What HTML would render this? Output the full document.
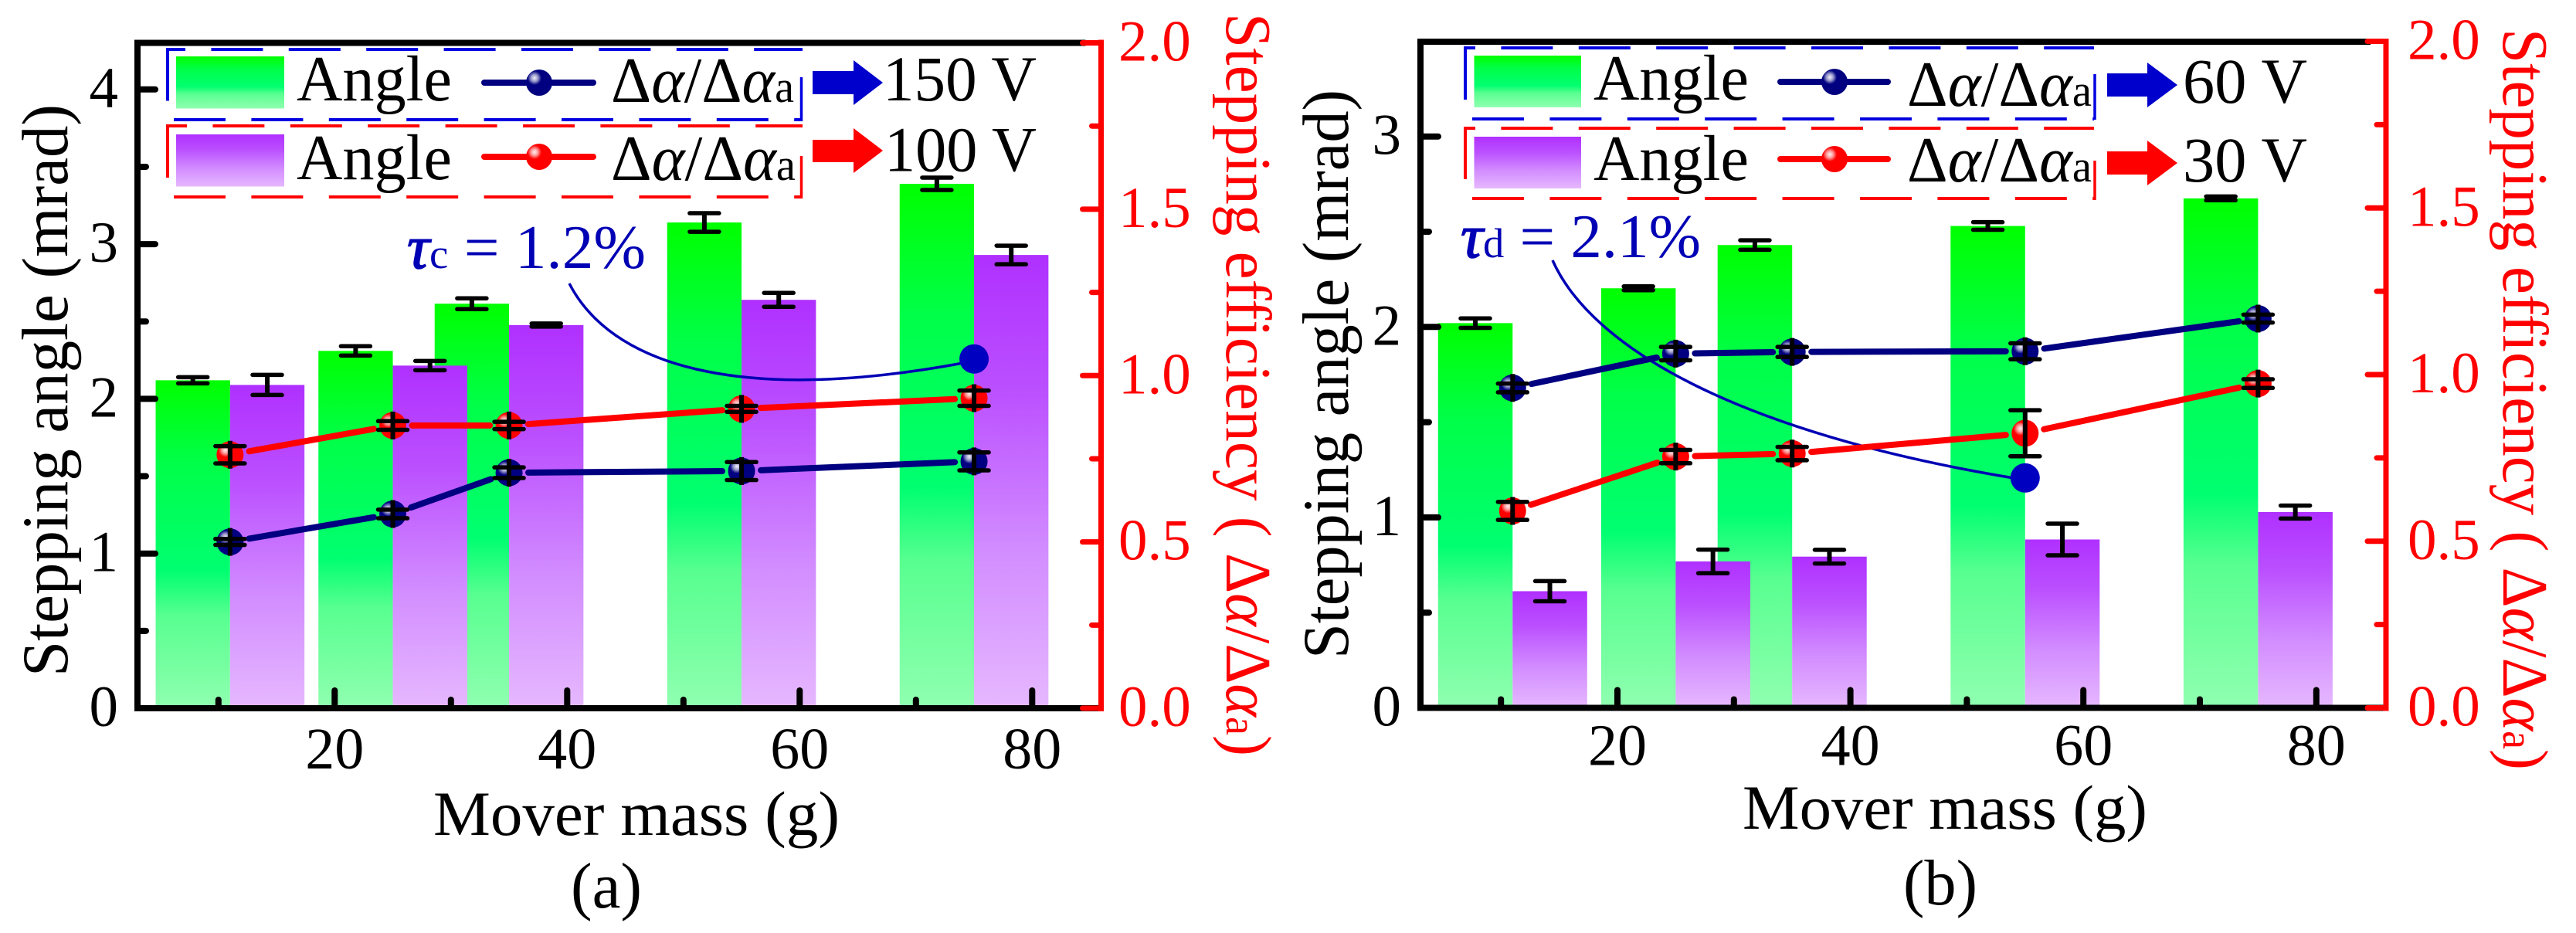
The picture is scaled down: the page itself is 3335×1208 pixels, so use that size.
<!DOCTYPE html>
<html lang="en">
<head>
<meta charset="utf-8">
<title>Stepping angle and stepping efficiency versus mover mass</title>
<style>
html,body{margin:0;padding:0;background:#fff;}
svg{display:block;}
text{font-family:"Liberation Serif","DejaVu Serif",serif;}
</style>
</head>
<body>
<svg id="figure" xmlns="http://www.w3.org/2000/svg" width="3335" height="1208" viewBox="0 0 3335 1208">
<defs>
<linearGradient id="gGreen" x1="0" y1="0" x2="0" y2="1">
<stop offset="0" stop-color="#00ff00"/><stop offset="0.25" stop-color="#00ff48"/><stop offset="0.58" stop-color="#00ff70"/><stop offset="0.72" stop-color="#58ff90"/><stop offset="1" stop-color="#90ffb0"/>
</linearGradient>
<linearGradient id="gPurple" x1="0" y1="0" x2="0" y2="1">
<stop offset="0" stop-color="#b030ff"/><stop offset="0.3" stop-color="#bb50ff"/><stop offset="0.65" stop-color="#d28cff"/><stop offset="1" stop-color="#e6b8ff"/>
</linearGradient>
<radialGradient id="gShine">
<stop offset="0" stop-color="#ffffff" stop-opacity="0.95"/><stop offset="0.5" stop-color="#ffffff" stop-opacity="0.6"/><stop offset="1" stop-color="#ffffff" stop-opacity="0"/>
</radialGradient>
</defs>
<rect x="0" y="0" width="3335" height="1208" fill="#ffffff"/>

<g id="panelA"></g>
<g id="panelB"></g>

<!-- Panel A static text and legend -->
<g>
<text transform="translate(87,876) rotate(-90)" font-size="85" fill="#000" textLength="741" lengthAdjust="spacingAndGlyphs">Stepping angle (mrad)</text>
<text transform="translate(1588,17) rotate(90)" font-size="84" fill="#ff0000" textLength="962" lengthAdjust="spacingAndGlyphs">Stepping efficiency ( Δ<tspan font-style="italic">α</tspan>/Δ<tspan font-style="italic">α</tspan><tspan font-size="56">a</tspan>)</text>
<text x="561" y="1081" font-size="82" fill="#000" textLength="526" lengthAdjust="spacingAndGlyphs">Mover mass (g)</text>
<text x="739" y="1175" font-size="84" fill="#000" textLength="92" lengthAdjust="spacingAndGlyphs">(a)</text>
</g>
<g>
<line x1="217" y1="64" x2="1039" y2="64" stroke="#0000e0" stroke-width="4" stroke-dasharray="67 33.4" stroke-dashoffset="44"/>
<line x1="225" y1="155" x2="1039" y2="155" stroke="#0000e0" stroke-width="4" stroke-dasharray="67 33.4"/>
<line x1="217" y1="62" x2="217" y2="130.5" stroke="#0000e0" stroke-width="4"/>
<line x1="1037.5" y1="100" x2="1037.5" y2="157" stroke="#0000e0" stroke-width="3.5"/>
<line x1="217" y1="163" x2="1039" y2="163" stroke="#ff0000" stroke-width="4" stroke-dasharray="67 33.4" stroke-dashoffset="42"/>
<line x1="225" y1="255" x2="1039" y2="255" stroke="#ff0000" stroke-width="4" stroke-dasharray="67 33.4"/>
<line x1="217" y1="161" x2="217" y2="230" stroke="#ff0000" stroke-width="4"/>
<line x1="1037.5" y1="202" x2="1037.5" y2="257" stroke="#ff0000" stroke-width="3.5"/>
<rect x="228" y="73" width="140" height="67.5" fill="url(#gGreen)"/>
<rect x="228" y="174" width="140" height="67.5" fill="url(#gPurple)"/>
<text x="384" y="130" font-size="84" textLength="201" lengthAdjust="spacingAndGlyphs">Angle</text>
<text x="384" y="232" font-size="84" textLength="201" lengthAdjust="spacingAndGlyphs">Angle</text>
<line x1="627" y1="107" x2="768" y2="107" stroke="#000080" stroke-width="8" stroke-linecap="round"/>
<line x1="627" y1="203" x2="768" y2="203" stroke="#ff0000" stroke-width="8" stroke-linecap="round"/>
<circle cx="698" cy="107" r="17" fill="#000080"/>
<circle cx="692" cy="101" r="9" fill="url(#gShine)"/>
<circle cx="698" cy="203" r="17" fill="#ff0000"/>
<circle cx="692" cy="197" r="9" fill="url(#gShine)"/>
<text x="791" y="132" font-size="84" textLength="237" lengthAdjust="spacingAndGlyphs">Δ<tspan font-style="italic">α</tspan>/Δ<tspan font-style="italic">α</tspan><tspan font-size="58">a</tspan></text>
<text x="791" y="233" font-size="84" textLength="239" lengthAdjust="spacingAndGlyphs">Δ<tspan font-style="italic">α</tspan>/Δ<tspan font-style="italic">α</tspan><tspan font-size="58">a</tspan></text>
<polygon points="1052,92 1105,92 1105,78 1143,107 1105,136 1105,122 1052,122" fill="#0000cc"/>
<polygon points="1052,181 1105,181 1105,166 1143,195 1105,224 1105,210 1052,210" fill="#ff0000"/>
<text x="1143" y="130" font-size="83" textLength="199" lengthAdjust="spacingAndGlyphs">150 V</text>
<text x="1145" y="221.5" font-size="83" textLength="197" lengthAdjust="spacingAndGlyphs">100 V</text>
<text x="527" y="347" font-size="80" fill="#0000b4" textLength="309" lengthAdjust="spacingAndGlyphs"><tspan font-style="italic" stroke="#0000b4" stroke-width="1.5">τ</tspan><tspan font-size="54">c</tspan> = 1.2%</text>
</g>

<!-- Panel B static text and legend -->
<g>
<text transform="translate(1745,853) rotate(-90)" font-size="85" fill="#000" textLength="737" lengthAdjust="spacingAndGlyphs">Stepping angle (mrad)</text>
<text transform="translate(3241,37) rotate(90)" font-size="84" fill="#ff0000" textLength="960" lengthAdjust="spacingAndGlyphs">Stepping efficiency ( Δ<tspan font-style="italic">α</tspan>/Δ<tspan font-style="italic">α</tspan><tspan font-size="56">a</tspan>)</text>
<text x="2256" y="1073" font-size="82" fill="#000" textLength="524" lengthAdjust="spacingAndGlyphs">Mover mass (g)</text>
<text x="2464" y="1171" font-size="84" fill="#000" textLength="96" lengthAdjust="spacingAndGlyphs">(b)</text>
</g>
<g>
<line x1="1897" y1="62" x2="2711" y2="62" stroke="#0000e0" stroke-width="4" stroke-dasharray="67 33.4" stroke-dashoffset="54"/>
<line x1="1906" y1="154" x2="2711" y2="154" stroke="#0000e0" stroke-width="4" stroke-dasharray="67 33.4"/>
<line x1="1897" y1="60" x2="1897" y2="129" stroke="#0000e0" stroke-width="4"/>
<line x1="2712" y1="96" x2="2712" y2="155" stroke="#0000e0" stroke-width="3.5"/>
<line x1="1897" y1="166" x2="2711" y2="166" stroke="#ff0000" stroke-width="4" stroke-dasharray="67 33.4" stroke-dashoffset="54"/>
<line x1="1906" y1="257" x2="2711" y2="257" stroke="#ff0000" stroke-width="4" stroke-dasharray="67 33.4"/>
<line x1="1897" y1="164" x2="1897" y2="232" stroke="#ff0000" stroke-width="4"/>
<line x1="2712" y1="208" x2="2712" y2="259" stroke="#ff0000" stroke-width="3.5"/>
<rect x="1908.5" y="72" width="138.5" height="67" fill="url(#gGreen)"/>
<rect x="1908.5" y="177" width="138.5" height="67" fill="url(#gPurple)"/>
<text x="2063" y="129" font-size="84" textLength="201" lengthAdjust="spacingAndGlyphs">Angle</text>
<text x="2063" y="233" font-size="84" textLength="201" lengthAdjust="spacingAndGlyphs">Angle</text>
<line x1="2305" y1="106" x2="2444" y2="106" stroke="#000080" stroke-width="8" stroke-linecap="round"/>
<line x1="2305" y1="206" x2="2444" y2="206" stroke="#ff0000" stroke-width="8" stroke-linecap="round"/>
<circle cx="2375" cy="106" r="17" fill="#000080"/>
<circle cx="2369" cy="100" r="9" fill="url(#gShine)"/>
<circle cx="2375" cy="206" r="17" fill="#ff0000"/>
<circle cx="2369" cy="200" r="9" fill="url(#gShine)"/>
<text x="2469" y="137" font-size="84" textLength="239" lengthAdjust="spacingAndGlyphs">Δ<tspan font-style="italic">α</tspan>/Δ<tspan font-style="italic">α</tspan><tspan font-size="58">a</tspan></text>
<text x="2469" y="235" font-size="84" textLength="239" lengthAdjust="spacingAndGlyphs">Δ<tspan font-style="italic">α</tspan>/Δ<tspan font-style="italic">α</tspan><tspan font-size="58">a</tspan></text>
<polygon points="2728,95 2780,95 2780,81 2819,110 2780,139 2780,125 2728,125" fill="#0000cc"/>
<polygon points="2728,196 2780,196 2780,182 2819,211 2780,240 2780,226 2728,226" fill="#ff0000"/>
<text x="2826" y="133" font-size="83" textLength="161" lengthAdjust="spacingAndGlyphs">60 V</text>
<text x="2826" y="235" font-size="83" textLength="161" lengthAdjust="spacingAndGlyphs">30 V</text>
<text x="1891" y="333" font-size="80" fill="#0000b4" textLength="311" lengthAdjust="spacingAndGlyphs"><tspan font-style="italic" stroke="#0000b4" stroke-width="1.5">τ</tspan><tspan font-size="54">d</tspan> = 2.1%</text>
</g>
</svg>

<script>
// Panel (a) data
const massA = [11, 25, 35, 55, 75];
const angle150 = [2.12, 2.31, 2.615, 3.14, 3.39];
const angle150Err = [0.02, 0.03, 0.035, 0.06, 0.04];
const angle100 = [2.09, 2.215, 2.477, 2.64, 2.93];
const angle100Err = [0.065, 0.03, 0.01, 0.045, 0.06];
const eff150 = [0.50, 0.584, 0.708, 0.713, 0.742];
const eff150Err = [0.009, 0.013, 0.016, 0.027, 0.027];
const eff100 = [0.762, 0.85, 0.85, 0.90, 0.932];
const eff100Err = [0.026, 0.013, 0.011, 0.009, 0.023];
const leftMajorTicksA = [0, 1, 2, 3, 4];
const leftMinorTicksA = [0.5, 1.5, 2.5, 3.5];

// Panel (b) data
const massB = [11, 25, 35, 55, 75];
const angle60 = [2.02, 2.203, 2.43, 2.53, 2.675];
const angle60Err = [0.025, 0.01, 0.025, 0.02, 0.01];
const angle30 = [0.6125, 0.769, 0.794, 0.884, 1.028];
const angle30Err = [0.053, 0.062, 0.036, 0.083, 0.034];
const eff60 = [0.96, 1.063, 1.068, 1.07, 1.168];
const eff60Err = [0.013, 0.02, 0.015, 0.024, 0.012];
const eff30 = [0.591, 0.754, 0.763, 0.824, 0.973];
const eff30Err = [0.027, 0.02, 0.02, 0.069, 0.013];
const leftMajorTicksB = [0, 1, 2, 3];
const leftMinorTicksB = [0.5, 1.5, 2.5];

// Shared axis labels
const xMajorTicks = [20, 40, 60, 80];
const xMinorTicks = [10, 30, 50, 70];
const rightMajorTicks = [0, 0.5, 1.0, 1.5, 2.0];
const rightMinorTicks = [0.25, 0.75, 1.25, 1.75];
const barWidthInMass = 6.4;
const annotationMassA = 75;
const annotationEffA = 1.05;
const annotationMassB = 55;
const annotationEffB = 0.69;

const SVGNS = 'http://www.w3.org/2000/svg';
function make(tag, attrs, parent) {
  const node = document.createElementNS(SVGNS, tag);
  for (const k in attrs) node.setAttribute(k, attrs[k]);
  parent.appendChild(node);
  return node;
}

function drawMarker(parent, cx, cy, color) {
  const dot = make('circle', {cx: cx, cy: cy, r: 17.5, fill: color}, parent);
  
  
  const shine = make('circle', {cx: cx - 6, cy: cy - 6, r: 9, fill: 'url(#gShine)'}, parent);
  
  
}

function drawErrorBar(parent, cx, yCentre, yHigh, yLow, minStem) {
  const top = Math.min(yHigh, yCentre - minStem);
  const bottom = Math.max(yLow, yCentre + minStem);
  const stem = make('line', {x1: cx, x2: cx, y1: top, y2: bottom, stroke: '#000', 'stroke-width': 6}, parent);
  
  
  const capTop = make('line', {x1: cx - 19, x2: cx + 19, y1: yHigh, y2: yHigh, stroke: '#000', 'stroke-width': 5.5, 'stroke-linecap': 'round'}, parent);
  
  
  const capBottom = make('line', {x1: cx - 19, x2: cx + 19, y1: yLow, y2: yLow, stroke: '#000', 'stroke-width': 5.5, 'stroke-linecap': 'round'}, parent);
  
  
}

function drawBars(parent, p, xs, values, errs, fill, side) {
  const w = p.x(barWidthInMass) - p.x(0);
  xs.forEach(function (m, i) {
    const left = side < 0 ? p.x(m) - w : p.x(m);
    const yTop = p.yL(values[i]);
    const bar = make('rect', {x: left, y: yTop, width: w, height: p.yL(0) - yTop, fill: fill}, parent);
    
    
  });
}

function drawBarErrors(parent, p, xs, values, errs, side) {
  const w = p.x(barWidthInMass) - p.x(0);
  xs.forEach(function (m, i) {
    const cx = p.x(m) + side * w / 2;
    drawErrorBar(parent, cx, p.yL(values[i]), p.yL(values[i] + errs[i]), p.yL(values[i] - errs[i]), 0);
  });
}

function drawSeries(parent, p, xs, values, errs, color) {
  for (let i = 0; i + 1 < xs.length; i++) {
    const x1 = p.x(xs[i]), y1 = p.yR(values[i]);
    const x2 = p.x(xs[i + 1]), y2 = p.yR(values[i + 1]);
    const len = Math.hypot(x2 - x1, y2 - y1);
    const ux = (x2 - x1) / len, uy = (y2 - y1) / len;
    const seg = make('line', {x1: x1 + ux * 25, y1: y1 + uy * 25, x2: x2 - ux * 25, y2: y2 - uy * 25, stroke: color, 'stroke-width': 8, 'stroke-linecap': 'round'}, parent);
    
    
  }
  xs.forEach(function (m, i) {
    drawMarker(parent, p.x(m), p.yR(values[i]), color);
  });
  xs.forEach(function (m, i) {
    drawErrorBar(parent, p.x(m), p.yR(values[i]), p.yR(values[i] + errs[i]), p.yR(values[i] - errs[i]), 18);
  });
}

function drawAxes(parent, p, leftMajor, leftMinor) {
  const tickStyle = {stroke: '#000', 'stroke-width': 8, 'stroke-linecap': 'round'};
  leftMajor.forEach(function (v) {
    if (v === 0) return;
    const t = make('line', Object.assign({x1: p.left, x2: p.left + 23, y1: p.yL(v), y2: p.yL(v)}, tickStyle), parent);
    
    
  });
  leftMinor.forEach(function (v) {
    const t = make('line', Object.assign({x1: p.left, x2: p.left + 11, y1: p.yL(v), y2: p.yL(v)}, tickStyle), parent);
    
    
  });
  leftMajor.forEach(function (v) {
    const t = make('text', {x: p.left - 25, y: p.yL(v) + 23, 'font-size': 75, 'text-anchor': 'end', fill: '#000'}, parent);
    t.textContent = String(v);
    
    
  });
  xMajorTicks.forEach(function (v) {
    const t = make('line', Object.assign({x1: p.x(v), x2: p.x(v), y1: p.bottom, y2: p.bottom - 23}, tickStyle), parent);
    
    
    const lab = make('text', {x: p.x(v), y: p.xLabelY, 'font-size': 76, 'text-anchor': 'middle', fill: '#000'}, parent);
    lab.textContent = String(v);
    
    
  });
  xMinorTicks.forEach(function (v) {
    const t = make('line', Object.assign({x1: p.x(v), x2: p.x(v), y1: p.bottom, y2: p.bottom - 11}, tickStyle), parent);
    
    
  });
  const top = make('line', {x1: p.left - 4, x2: p.right - 20, y1: p.top, y2: p.top, stroke: '#000', 'stroke-width': 8}, parent);
  
  
  const bottom = make('line', {x1: p.left - 4, x2: p.right, y1: p.bottom, y2: p.bottom, stroke: '#000', 'stroke-width': 8}, parent);
  
  
  const left = make('line', {x1: p.left, x2: p.left, y1: p.top, y2: p.bottom, stroke: '#000', 'stroke-width': 8}, parent);
  
  
  const redTick = {stroke: '#ff0000', 'stroke-width': 7, 'stroke-linecap': 'round'};
  rightMajorTicks.forEach(function (v) {
    const t = make('line', Object.assign({x1: p.right, x2: p.right - 24, y1: p.yR(v), y2: p.yR(v)}, redTick), parent);
    
    
    const lab = make('text', {x: p.rightLabelX, y: p.yR(v) + 23, 'font-size': 75, fill: '#ff0000'}, parent);
    lab.textContent = v.toFixed(1);
    
    
  });
  rightMinorTicks.forEach(function (v) {
    const t = make('line', Object.assign({x1: p.right, x2: p.right - 12, y1: p.yR(v), y2: p.yR(v)}, redTick), parent);
    
    
  });
  const right = make('line', {x1: p.right, x2: p.right, y1: p.top - 4, y2: p.bottom + 4, stroke: '#ff0000', 'stroke-width': 7}, parent);
  
  
}

function drawAnnotation(parent, d, cx, cy) {
  const curve = make('path', {d: d, fill: 'none', stroke: '#0000b4', 'stroke-width': 3.5}, parent);
  
  
  const dot = make('circle', {cx: cx, cy: cy, r: 19, fill: '#0000c0'}, parent);
  
  
}

const scaleA = {
  left: 178, right: 1425.5, top: 55.5, bottom: 917, xLabelY: 995, rightLabelX: 1448,
  x: function (v) { return 433.3 + (v - 20) * 15.05; },
  yL: function (v) { return 917 - v * 200.3; },
  yR: function (v) { return 917 - v * 430.75; }
};
const scaleB = {
  left: 1839, right: 3089, top: 54, bottom: 916.5, xLabelY: 990.5, rightLabelX: 3117,
  x: function (v) { return 2094 + (v - 20) * 15.08; },
  yL: function (v) { return 916.5 - v * 246.6; },
  yR: function (v) { return 916.5 - v * 431.5; }
};

(function () {
  const a = document.getElementById('panelA');
  drawBars(a, scaleA, massA, angle150, angle150Err, 'url(#gGreen)', -1);
  drawBars(a, scaleA, massA, angle100, angle100Err, 'url(#gPurple)', 1);
  drawBarErrors(a, scaleA, massA, angle150, angle150Err, -1);
  drawBarErrors(a, scaleA, massA, angle100, angle100Err, 1);
  drawAnnotation(a, 'M737 367 C 790 470, 950 525, 1247 470', scaleA.x(annotationMassA), scaleA.yR(annotationEffA));
  drawSeries(a, scaleA, massA, eff150, eff150Err, '#000080');
  drawSeries(a, scaleA, massA, eff100, eff100Err, '#ff0000');
  drawAxes(a, scaleA, leftMajorTicksA, leftMinorTicksA);

  const b = document.getElementById('panelB');
  drawBars(b, scaleB, massB, angle60, angle60Err, 'url(#gGreen)', -1);
  drawBars(b, scaleB, massB, angle30, angle30Err, 'url(#gPurple)', 1);
  drawBarErrors(b, scaleB, massB, angle60, angle60Err, -1);
  drawBarErrors(b, scaleB, massB, angle30, angle30Err, 1);
  drawAnnotation(b, 'M2010 337 C 2060 450, 2250 560, 2607 619', scaleB.x(annotationMassB), scaleB.yR(annotationEffB));
  drawSeries(b, scaleB, massB, eff60, eff60Err, '#000080');
  drawSeries(b, scaleB, massB, eff30, eff30Err, '#ff0000');
  drawAxes(b, scaleB, leftMajorTicksB, leftMinorTicksB);
})();
</script>
</body>
</html>
